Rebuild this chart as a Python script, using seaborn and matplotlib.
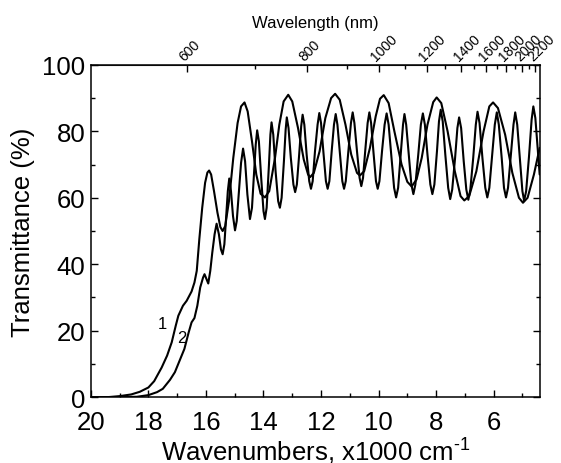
import pandas as pd
import matplotlib
matplotlib.use("Agg")
import matplotlib.pyplot as plt
import seaborn as sns
from matplotlib.ticker import MultipleLocator, FixedLocator

# --- DATA ---
# curve 1: wavenumber (x1000 cm-1) and transmittance (%)
wn_1 = [20.0, 19.4, 19.0, 18.6, 18.3, 18.0, 17.8, 17.54, 17.35, 17.19, 17.05, 16.96,
        16.8, 16.67, 16.5, 16.4, 16.32, 16.23, 16.13, 16.03, 15.95, 15.89, 15.82, 15.72,
        15.6, 15.5, 15.42, 15.33, 15.2, 15.05, 14.9, 14.78, 14.66, 14.55, 14.4, 14.25,
        14.1, 13.95, 13.8, 13.6, 13.45, 13.3, 13.14, 13.0, 12.8, 12.6, 12.45, 12.38,
        12.25, 12.05, 11.85, 11.65, 11.51, 11.35, 11.15, 10.95, 10.75, 10.65, 10.5, 10.3,
        10.1, 9.95, 9.82, 9.65, 9.45, 9.2, 9.0, 8.85, 8.68, 8.5, 8.3, 8.1,
        7.98, 7.82, 7.6, 7.35, 7.15, 7.02, 6.85, 6.6, 6.35, 6.15, 6.02, 5.85,
        5.6, 5.35, 5.12, 4.98, 4.82, 4.6, 4.4]
tr_1 = [0.0, 0.0, 0.3, 0.8, 1.6, 2.9, 4.8, 8.9, 12.5, 16.5, 21.5, 24.5,
        27.5, 29.0, 31.8, 34.5, 38.0, 47.6, 57.0, 64.5, 67.6, 68.2, 67.0, 62.0,
        55.5, 51.2, 50.0, 51.5, 59.0, 72.0, 82.5, 87.5, 88.7, 86.0, 77.0, 67.0,
        61.2, 60.1, 62.0, 72.0, 82.0, 89.0, 91.0, 89.0, 81.0, 71.5, 67.0, 66.2,
        67.5, 74.0, 84.0, 90.0, 91.3, 89.5, 82.0, 73.0, 67.5, 66.7, 68.0, 75.0,
        84.5, 89.8, 90.9, 88.5, 80.0, 70.0, 64.8, 63.4, 65.5, 72.0, 82.0, 88.8,
        90.2, 88.5, 80.0, 68.0, 60.5, 59.2, 60.5, 68.0, 80.0, 87.5, 88.7, 87.0,
        79.0, 67.5, 60.0, 58.5, 60.0, 67.0, 75.0]

# curve 2
wn_2 = [20.0, 19.0, 18.4, 18.0, 17.7, 17.5, 17.25, 17.08, 16.9, 16.75, 16.6, 16.5,
        16.4, 16.3, 16.2, 16.1, 16.05, 15.98, 15.92, 15.85, 15.78, 15.7, 15.63, 15.55,
        15.48, 15.42, 15.36, 15.3, 15.24, 15.19, 15.13, 15.06, 14.99, 14.93, 14.86, 14.78,
        14.71, 14.64, 14.56, 14.47, 14.4, 14.33, 14.27, 14.22, 14.16, 14.08, 14.0, 13.95,
        13.89, 13.81, 13.76, 13.72, 13.66, 13.58, 13.49, 13.43, 13.37, 13.29, 13.23, 13.19,
        13.13, 13.05, 12.96, 12.9, 12.84, 12.76, 12.69, 12.64, 12.58, 12.5, 12.41, 12.35,
        12.29, 12.21, 12.12, 12.06, 12.0, 11.92, 11.83, 11.77, 11.71, 11.63, 11.55, 11.49,
        11.43, 11.35, 11.26, 11.2, 11.14, 11.05, 10.96, 10.9, 10.84, 10.75, 10.66, 10.6,
        10.54, 10.46, 10.38, 10.32, 10.26, 10.18, 10.09, 10.03, 9.97, 9.88, 9.79, 9.72,
        9.65, 9.55, 9.46, 9.39, 9.32, 9.23, 9.15, 9.1, 9.04, 8.95, 8.86, 8.79,
        8.72, 8.62, 8.53, 8.46, 8.39, 8.3, 8.2, 8.13, 8.06, 7.97, 7.9, 7.84,
        7.77, 7.68, 7.58, 7.51, 7.44, 7.34, 7.26, 7.2, 7.13, 7.04, 6.95, 6.88,
        6.81, 6.71, 6.62, 6.56, 6.49, 6.39, 6.29, 6.22, 6.15, 6.05, 5.96, 5.89,
        5.82, 5.72, 5.64, 5.57, 5.5, 5.4, 5.31, 5.25, 5.18, 5.09, 5.0, 4.94,
        4.87, 4.77, 4.68, 4.62, 4.55, 4.47, 4.4]
tr_2 = [0.0, 0.0, 0.1, 0.6, 1.5, 2.5, 5.2, 7.5, 11.3, 14.5, 19.5, 22.5,
        23.8, 27.5, 33.0, 36.0, 37.0, 35.5, 34.2, 38.0, 43.5, 49.0, 52.2, 49.0,
        44.5, 43.0, 46.0, 54.0, 62.0, 65.8, 62.0, 54.5, 50.2, 53.0, 61.0, 70.5,
        74.8, 71.0, 61.0, 53.6, 57.0, 67.0, 76.0, 80.3, 77.0, 66.0, 56.0, 53.6,
        57.0, 70.0, 79.0, 82.7, 79.0, 68.0, 59.0, 57.0, 60.0, 71.0, 80.5, 84.2,
        81.0, 72.0, 64.0, 61.7, 64.0, 73.0, 81.5, 85.0, 82.0, 73.0, 65.0, 62.7,
        65.0, 74.0, 82.0, 85.5, 82.5, 74.0, 65.0, 62.7, 65.0, 74.0, 82.0, 85.2,
        82.0, 74.0, 65.0, 62.7, 65.0, 74.0, 82.5, 85.7, 82.5, 74.0, 66.0, 63.5,
        66.0, 74.5, 82.5, 85.7, 82.5, 74.0, 65.0, 62.7, 65.0, 74.0, 82.0, 85.4,
        82.0, 72.0, 63.0, 60.1, 63.0, 73.0, 82.0, 85.2, 82.0, 73.0, 64.0, 61.1,
        64.0, 73.0, 82.0, 85.4, 82.0, 73.0, 64.0, 61.1, 64.0, 74.0, 83.0, 86.5,
        83.0, 73.0, 63.0, 59.6, 62.5, 72.0, 81.0, 84.2, 81.0, 71.0, 62.5, 59.4,
        62.5, 72.0, 82.0, 85.9, 82.5, 72.0, 63.0, 60.1, 63.0, 73.0, 82.0, 85.7,
        82.0, 72.0, 63.0, 60.1, 63.0, 73.0, 82.0, 85.7, 82.0, 72.0, 62.0, 59.1,
        62.0, 72.5, 83.5, 87.5, 84.0, 75.0, 67.0]

wavelength_ticks = [600, 800, 1000, 1200, 1400, 1600, 1800, 2000, 2200]
wavelength_minor = [700, 900, 1100, 1300, 1500, 1700, 1900, 2100]


def main():
    df = pd.concat([
        pd.DataFrame({'wn': wn_1, 'T': tr_1, 'curve': '1'}),
        pd.DataFrame({'wn': wn_2, 'T': tr_2, 'curve': '2'}),
    ], ignore_index=True)

    sns.set_style("ticks")
    plt.rcParams['font.family'] = ['Liberation Sans', 'DejaVu Sans']
    plt.rcParams['axes.unicode_minus'] = False
    for key in ['text.color', 'axes.labelcolor', 'xtick.color', 'ytick.color',
                'xtick.labelcolor', 'ytick.labelcolor']:
        plt.rcParams[key] = 'black'

    fig = plt.figure(figsize=(5.61, 4.64), dpi=100)
    ax = fig.add_axes([0.162, 0.142, 0.801, 0.716])

    sns.lineplot(data=df, x='wn', y='T', units='curve', estimator=None, sort=False,
                 color='black', linewidth=1.5, ax=ax, legend=False)

    ax.set_xlim(20, 4.38)
    ax.set_ylim(0, 100)
    ax.xaxis.set_major_locator(MultipleLocator(2))
    ax.xaxis.set_minor_locator(MultipleLocator(1))
    ax.yaxis.set_major_locator(MultipleLocator(20))
    ax.yaxis.set_minor_locator(MultipleLocator(10))
    ax.tick_params(which='both', direction='in', top=False, right=True,
                   labelsize=18.5, width=1, color='black')
    ax.tick_params(axis='x', pad=9)
    ax.tick_params(axis='y', pad=4)
    ax.tick_params(which='major', length=5)
    ax.tick_params(which='minor', length=3)
    for s in ax.spines.values():
        s.set_linewidth(1.1)
        s.set_color('black')

    ax.set_xlabel('Wavenumbers, x1000 cm$^{\\mathregular{\u20101}}$', fontsize=18.5, labelpad=0)
    ax.set_ylabel('Transmittance (%)', fontsize=18.5, labelpad=5)

    # curve labels
    ax.text(17.5, 22.3, '1', fontsize=12, ha='center', va='center')
    ax.text(16.85, 18.0, '2', fontsize=12, ha='center', va='center')

    # top wavelength axis
    sec = ax.secondary_xaxis('top', functions=(lambda w: 1e4 / w, lambda nm: 1e4 / nm))
    sec.xaxis.set_major_locator(FixedLocator(wavelength_ticks))
    sec.xaxis.set_minor_locator(FixedLocator(wavelength_minor))
    sec.tick_params(which='both', direction='in', labelsize=10, width=1, pad=1)
    sec.tick_params(which='major', length=5)
    sec.tick_params(which='minor', length=3)
    for lab in sec.get_xticklabels():
        lab.set_rotation(45)
        lab.set_ha('left')
        lab.set_va('bottom')
        lab.set_rotation_mode('anchor')
    sec.set_xlabel('Wavelength (nm)', fontsize=12, labelpad=3)

    fig.savefig('out.png', dpi=100)


if __name__ == "__main__":
    main()
